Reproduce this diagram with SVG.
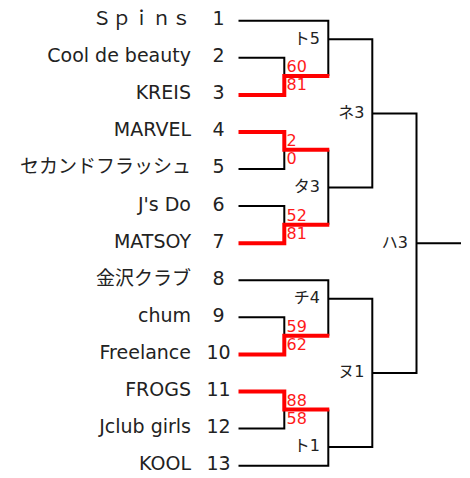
<svg xmlns="http://www.w3.org/2000/svg" width="470" height="478" viewBox="0 0 470 478">
<style>
.name{font-family:"DejaVu Sans","Noto Sans CJK JP",sans-serif;font-size:19px;fill:#222;text-anchor:end}
.num{font-family:"DejaVu Sans","Noto Sans CJK JP",sans-serif;font-size:19px;fill:#222;text-anchor:middle}
.lbl{font-family:"DejaVu Sans","Noto Sans CJK JP",sans-serif;font-size:16px;fill:#222;text-anchor:end}
.score{font-family:"DejaVu Sans",sans-serif;font-size:16px;fill:#ff1a1a}
.blk{fill:none;stroke:#000;stroke-width:2}
.red{fill:none;stroke:#ff0000;stroke-width:4}
</style>
<rect width="470" height="478" fill="#fff"/>
<g id="connectors">
<path class="blk" d="M238.5 20.7H328.3V76M238.5 57.8H284.3V76M238.5 169H284.3V149.8M238.5 206.1H284.3V224.8M328.3 149.8V224.8M238.5 280.3H328.3V335.8M238.5 317.3H284.3V335.8M238.5 428.6H284.3V409.6M238.5 465.7H328.3V409.6M328.3 39.2H372.3V187.5H328.3M328.3 298.8H372.3V447.1H328.3M372.3 113.4H416.5V372.9H372.3M416.5 243.2H461"/>
<path class="red" d="M238.5 94.9H284.3V76H329.3M238.5 131.9H284.3V149.8H329.3M238.5 243.2H284.3V224.8H329.3M238.5 354.4H284.3V335.8H329.3M238.5 391.5H284.3V409.6H329.3"/>
</g>
<g id="team1"><text class="name" x="92.5 112.3 132.1 151.9 171.7" y="25" style="text-anchor:start">Ｓｐｉｎｓ</text><text class="num" x="218.5" y="25">1</text></g>
<g id="team2"><text class="name" x="191" y="62.2">Cool de beauty</text><text class="num" x="218.5" y="62.2">2</text></g>
<g id="team3"><text class="name" x="191" y="99.3">KREIS</text><text class="num" x="218.5" y="99.3">3</text></g>
<g id="team4"><text class="name" x="191" y="136.3">MARVEL</text><text class="num" x="218.5" y="136.3">4</text></g>
<g id="team5"><text class="name" x="191" y="173.4">セカンドフラッシュ</text><text class="num" x="218.5" y="173.4">5</text></g>
<g id="team6"><text class="name" x="191" y="210.5">J's Do</text><text class="num" x="218.5" y="210.5">6</text></g>
<g id="team7"><text class="name" x="191" y="247.6">MATSOY</text><text class="num" x="218.5" y="247.6">7</text></g>
<g id="team8"><text class="name" x="191" y="284.7">金沢クラブ</text><text class="num" x="218.5" y="284.7">8</text></g>
<g id="team9"><text class="name" x="191" y="321.7">chum</text><text class="num" x="218.5" y="321.7">9</text></g>
<g id="team10"><text class="name" x="191" y="358.8">Freelance</text><text class="num" x="218.5" y="358.8">10</text></g>
<g id="team11"><text class="name" x="191" y="395.9">FROGS</text><text class="num" x="218.5" y="395.9">11</text></g>
<g id="team12"><text class="name" x="191" y="433">Jclub girls</text><text class="num" x="218.5" y="433">12</text></g>
<g id="team13"><text class="name" x="191" y="470.1">KOOL</text><text class="num" x="218.5" y="470.1">13</text></g>
<g id="match-r1-1"><text class="score" x="286.5" y="72">60</text><text class="score" x="286.5" y="90">81</text></g>
<g id="match-r1-2"><text class="score" x="286.5" y="145.8">2</text><text class="score" x="286.5" y="163.8">0</text></g>
<g id="match-r1-3"><text class="score" x="286.5" y="220.8">52</text><text class="score" x="286.5" y="238.8">81</text></g>
<g id="match-r1-4"><text class="score" x="286.5" y="331.8">59</text><text class="score" x="286.5" y="349.8">62</text></g>
<g id="match-r1-5"><text class="score" x="286.5" y="405.6">88</text><text class="score" x="286.5" y="423.6">58</text></g>
<g id="match-to5"><text class="lbl" x="320" y="43.5">ト5</text></g>
<g id="match-ta3"><text class="lbl" x="320" y="191.8">タ3</text></g>
<g id="match-chi4"><text class="lbl" x="320" y="303.1">チ4</text></g>
<g id="match-to1"><text class="lbl" x="320" y="451.4">ト1</text></g>
<g id="match-ne3"><text class="lbl" x="364.5" y="117.7">ネ3</text></g>
<g id="match-nu1"><text class="lbl" x="364.5" y="377.2">ヌ1</text></g>
<g id="match-ha3"><text class="lbl" x="408" y="247.5">ハ3</text></g>
</svg>
